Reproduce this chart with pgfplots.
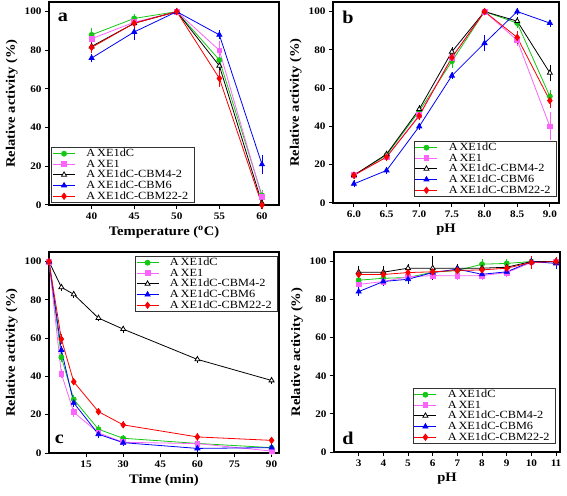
\documentclass[border=0pt]{standalone}
\usepackage{fontspec}
\setmainfont{Liberation Serif}[FakeStretch=1.12]
\usepackage{pgfplots}
\pgfplotsset{compat=1.18}
\definecolor{colG}{RGB}{20,200,20}
\definecolor{colM}{RGB}{250,100,250}
\definecolor{colB}{RGB}{0,0,250}
\definecolor{colR}{RGB}{250,0,0}
\pgfplotsset{
 panel/.style={scale only axis, ymin=0, ymax=105, ytick={0,20,40,60,80,100},
  clip=false,
  axis line style={line width=1.3pt}, tick align=outside, xtick pos=bottom, ytick pos=left,
  major tick length=4pt, tick style={line width=1pt, black},
  /pgf/number format/assume math mode=true,
  tick label style={font=\fontsize{10}{10}\selectfont\bfseries},
  label style={font=\fontsize{13}{13}\selectfont\bfseries},
  ylabel={Relative activity (\%)},
  legend cell align=left,
  legend style={font=\fontsize{11}{11}\selectfont, draw=black!80, line width=0.7pt, inner sep=1pt, row sep=0pt,
    nodes={font=\fontsize{11}{11}\selectfont, inner ysep=0.8pt, inner xsep=5pt}},
  legend image code/.code={\draw[mark repeat=2,mark phase=2] plot coordinates {(0pt,0pt)(11pt,0pt)(22pt,0pt)};\path (28pt,0pt);},
  error bars/y dir=both, error bars/y explicit,
  error bars/error bar style={line width=0.7pt},
  error bars/error mark options={mark size=2.5pt, line width=0.7pt},
 },
 sA/.style={color=colG, line width=0.8pt, mark=*, mark size=2.5pt, mark options={solid, fill=colG}},
 sB/.style={color=colM, line width=0.8pt, mark=square*, mark size=2.4pt, mark options={solid, fill=colM}},
 sC/.style={color=black, line width=0.8pt, mark=triangle*, mark size=2.9pt, mark options={solid, fill=white, draw=black}},
 sD/.style={color=colB, line width=0.8pt, mark=triangle*, mark size=2.9pt, mark options={solid, fill=colB}},
 sE/.style={color=colR, line width=0.8pt, mark=diamond*, mark size=3.1pt, mark options={solid, fill=colR}},
}
\begin{document}
\begin{tikzpicture}
\useasboundingbox (0,0) rectangle (567pt,495pt);
% ---------------- a
\begin{axis}[panel, at={(49pt,290pt)}, anchor=south west, width=230pt, height=203pt,
  xmin=35, xmax=62, xtick={40,45,50,55,60},
  xlabel={Temperature (\textsuperscript{o}C)},
  legend style={at={(0.01,0.01)}, anchor=south west}]
\addplot[sA] coordinates {(40,88) +- (0,2) (45,96.5) +- (0,1) (50,100) +- (0,0.5) (55,75) +- (0,1.5) (60,5) +- (0,1.5)};
\addplot[sB] coordinates {(40,86) +- (0,2) (45,94.5) +- (0,1) (50,100) +- (0,0.5) (55,80) +- (0,3.5) (60,4) +- (0,2)};
\addplot[sC] coordinates {(40,82) +- (0,1) (45,94) +- (0,1.5) (50,100) +- (0,0.5) (55,72) +- (0,2) (60,1) +- (0,1)};
\addplot[sD] coordinates {(40,76) +- (0,1) (45,89.5) +- (0,3) (50,100) +- (0,0.5) (55,88) +- (0,1) (60,21) +- (0,3.5)};
\addplot[sE] coordinates {(40,81.5) +- (0,1.5) (45,94) +- (0,1) (50,100) +- (0,0.5) (55,65.5) +- (0,3) (60,0) +- (0,1)};
\legend{A\,XE1dC, A\,XE1, A\,XE1dC-CBM4-2, A\,XE1dC-CBM6, A\,XE1dC-CBM22-2}
\node[font=\fontsize{18}{18}\selectfont\bfseries] at (rel axis cs:0.06,0.926) {a};
\end{axis}
% ---------------- b
\begin{axis}[panel, at={(333pt,292pt)}, anchor=south west, width=226pt, height=201pt,
  xmin=5.68, xmax=9.14, xtick={6,6.5,7,7.5,8,8.5,9},
  xticklabel style={/pgf/number format/.cd, fixed, fixed zerofill, precision=1},
  xlabel={pH},
  legend style={at={(0.991,0.03)}, anchor=south east}]
\addplot[sA] coordinates {(6,14.5) +- (0,0.5) (6.5,25) +- (0,0.5) (7,48) +- (0,1) (7.5,74) +- (0,2) (8,100) +- (0,0.5) (8.5,94) +- (0,1.5) (9,55.7) +- (0,2)};
\addplot[sB] coordinates {(6,14.5) +- (0,0.5) (6.5,24) +- (0,0.5) (7,46) +- (0,1) (7.5,76) +- (0,1) (8,100) +- (0,0.5) (8.5,85) +- (0,1.5) (9,40) +- (0,6)};
\addplot[sC] coordinates {(6,14.5) +- (0,0.5) (6.5,25.5) +- (0,0.5) (7,49) +- (0,1) (7.5,79) +- (0,1) (8,100) +- (0,0.5) (8.5,95) +- (0,1) (9,68) +- (0,3)};
\addplot[sD] coordinates {(6,10) +- (0,0.5) (6.5,17) +- (0,0.5) (7,40) +- (0,0.5) (7.5,66.5) +- (0,0.5) (8,83.5) +- (0,3) (8.5,100) +- (0,0.5) (9,94) +- (0,0.5)};
\addplot[sE] coordinates {(6,14.5) +- (0,0.5) (6.5,24) +- (0,0.5) (7,45.5) +- (0,1) (7.5,76) +- (0,1) (8,100) +- (0,0.5) (8.5,86.5) +- (0,2) (9,53.5) +- (0,2.5)};
\legend{A\,XE1dC, A\,XE1, A\,XE1dC-CBM4-2, A\,XE1dC-CBM6, A\,XE1dC-CBM22-2}
\node[font=\fontsize{18}{18}\selectfont\bfseries] at (rel axis cs:0.066,0.926) {b};
\end{axis}
% ---------------- c
\begin{axis}[panel, at={(49pt,42pt)}, anchor=south west, width=230pt, height=201pt,
  xmin=0, xmax=93, xtick={15,30,45,60,75,90},
  xlabel={Time (min)},
  legend style={at={(0.996,0.98)}, anchor=north east}]
\addplot[sA] coordinates {(0,100) +- (0,0.5) (5,50) +- (0,1) (10,28) +- (0,1) (20,12.4) +- (0,1) (30,7.7) +- (0,0.5) (60,5) +- (0,0.5) (90,2.8) +- (0,0.5)};
\addplot[sB] coordinates {(0,100) +- (0,0.5) (5,41.4) +- (0,1) (10,21.3) +- (0,1) (20,10.5) +- (0,0.5) (30,5.6) +- (0,0.5) (60,4.9) +- (0,0.5) (90,1) +- (0,0.5)};
\addplot[sC] coordinates {(0,100) +- (0,0.5) (5,86.6) +- (0,0.5) (10,82.9) +- (0,0.5) (20,70.5) +- (0,0.5) (30,64.7) +- (0,0.5) (60,48.9) +- (0,0.5) (90,37.9) +- (0,0.5)};
\addplot[sD] coordinates {(0,100) +- (0,0.5) (5,53.8) +- (0,1) (10,26.2) +- (0,1) (20,9.8) +- (0,0.5) (30,5.4) +- (0,0.5) (60,2.4) +- (0,0.5) (90,2.8) +- (0,0.5)};
\addplot[sE] coordinates {(0,100) +- (0,0.5) (5,59.5) +- (0,1.5) (10,37.2) +- (0,0.5) (20,21.6) +- (0,0.5) (30,14.7) +- (0,0.5) (60,8.4) +- (0,0.5) (90,6.6) +- (0,0.5)};
\legend{A\,XE1dC, A\,XE1, A\,XE1dC-CBM4-2, A\,XE1dC-CBM6, A\,XE1dC-CBM22-2}
\node[font=\fontsize{18}{18}\selectfont\bfseries] at (rel axis cs:0.045,0.07) {c};
\end{axis}
% ---------------- d
\begin{axis}[panel, at={(334pt,43pt)}, anchor=south west, width=226pt, height=200pt,
  xmin=2, xmax=11.16, xtick={3,4,5,6,7,8,9,10,11},
  xlabel={pH},
  legend style={at={(0.982,0.04)}, anchor=south east}]
\addplot[sA] coordinates {(3,90.2) +- (0,1) (4,91.2) +- (0,1) (5,91.6) +- (0,1) (6,94.4) +- (0,1) (7,95.3) +- (0,1) (8,98.6) +- (0,1.5) (9,99) +- (0,1) (10,100) +- (0,1) (11,100) +- (0,1)};
\addplot[sB] coordinates {(3,88) +- (0,1) (4,89.5) +- (0,1) (5,92) +- (0,1) (6,92.6) +- (0,1) (7,92.5) +- (0,1) (8,92.6) +- (0,1) (9,94.2) +- (0,1) (10,99.5) +- (0,2) (11,100) +- (0,1)};
\addplot[sC] coordinates {(3,94.4) +- (0,2) (4,94.4) +- (0,2) (5,96.5) +- (0,1) (6,96.5) +- (0,5) (7,96.5) +- (0,1) (8,96.5) +- (0,1) (9,97) +- (0,1) (10,100) +- (0,1) (11,100) +- (0,1)};
\addplot[sD] coordinates {(3,84.2) +- (0,1) (4,89.5) +- (0,1) (5,90.7) +- (0,1) (6,94.2) +- (0,1) (7,96) +- (0,1) (8,93.3) +- (0,1) (9,94.6) +- (0,1) (10,100) +- (0,1) (11,99) +- (0,1.5)};
\addplot[sE] coordinates {(3,93.2) +- (0,1.5) (4,93.2) +- (0,1.5) (5,94.2) +- (0,1) (6,94.6) +- (0,2) (7,95.3) +- (0,1) (8,95.6) +- (0,1.5) (9,96.5) +- (0,1) (10,99.5) +- (0,2) (11,100) +- (0,1)};
\legend{A\,XE1dC, A\,XE1, A\,XE1dC-CBM4-2, A\,XE1dC-CBM6, A\,XE1dC-CBM22-2}
\node[font=\fontsize{18}{18}\selectfont\bfseries] at (rel axis cs:0.062,0.07) {d};
\end{axis}
\end{tikzpicture}
\end{document}
